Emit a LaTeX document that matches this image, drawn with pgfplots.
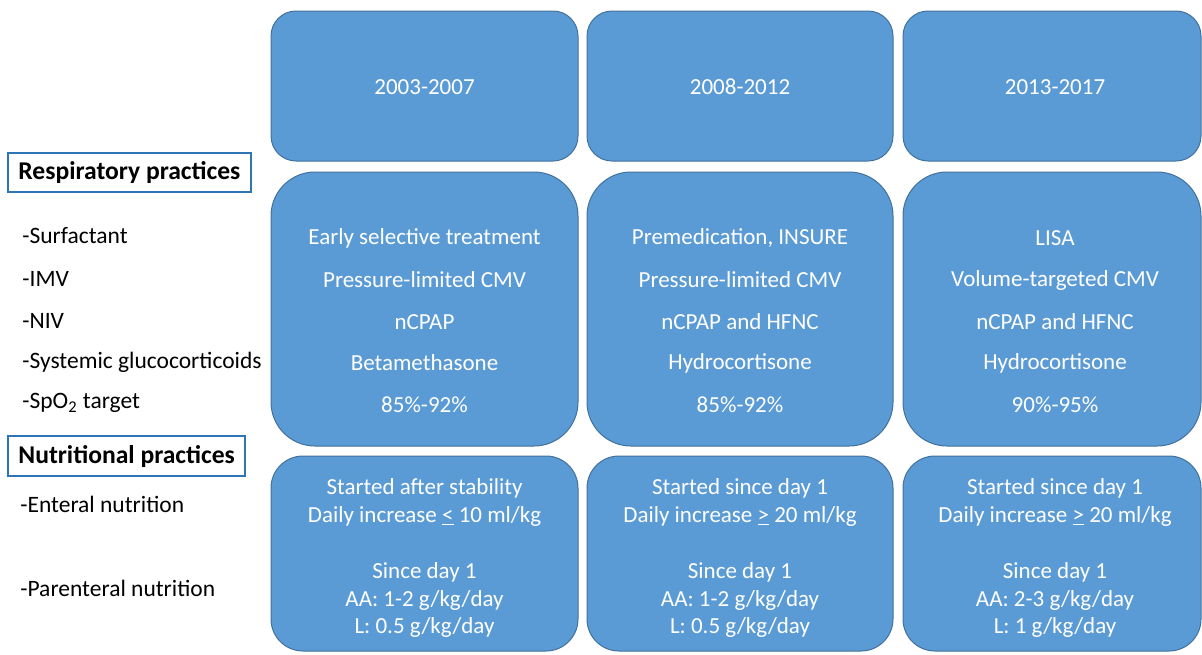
\documentclass[border=0pt]{standalone}
\usepackage{fontspec}
\setmainfont{Carlito}
\usepackage{pgfplots}
\pgfplotsset{compat=1.18}
\definecolor{boxfill}{HTML}{5B9BD5}
\definecolor{boxline}{HTML}{41719C}
\definecolor{headline}{HTML}{2E75B6}
\begin{document}
\begin{tikzpicture}
\begin{axis}[
  width=601pt, height=327pt, scale only axis,
  xmin=0, xmax=1202, ymin=0, ymax=654, y dir=reverse,
  axis lines=none, clip=false,
]
\tikzset{bx/.style={fill=boxfill, draw=boxline, line width=0.5pt},
  wt/.style={text=white, anchor=center, inner sep=0pt, font=\fontsize{11.5}{13}\selectfont},
  lb/.style={text=black, anchor=west, inner sep=0pt, font=\fontsize{11.75}{13}\selectfont}}
\path (axis cs:0,0) rectangle (axis cs:1202,654);
% top row
\draw[bx, rounded corners=12.5pt] (axis cs:271,11) rectangle (axis cs:578,161);
\draw[bx, rounded corners=12.5pt] (axis cs:587,11) rectangle (axis cs:893,161);
\draw[bx, rounded corners=12.5pt] (axis cs:903,11) rectangle (axis cs:1201,161);
% middle row
\draw[bx, rounded corners=22pt] (axis cs:271,172) rectangle (axis cs:578,446);
\draw[bx, rounded corners=22pt] (axis cs:587,172) rectangle (axis cs:893,446);
\draw[bx, rounded corners=22pt] (axis cs:903,172) rectangle (axis cs:1201,446);
% bottom row
\draw[bx, rounded corners=16pt] (axis cs:271,456) rectangle (axis cs:578,651);
\draw[bx, rounded corners=16pt] (axis cs:587,456) rectangle (axis cs:893,651);
\draw[bx, rounded corners=16pt] (axis cs:903,456) rectangle (axis cs:1201,651);
% top text
\node[wt] at (axis cs:424.5,87) {2003-2007};
\node[wt] at (axis cs:740,87) {2008-2012};
\node[wt] at (axis cs:1055,87) {2013-2017};
% middle text col 1
\node[wt] at (axis cs:424.5,238) {Early selective treatment};
\node[wt] at (axis cs:424.5,280) {Pressure-limited CMV};
\node[wt] at (axis cs:424.5,322) {nCPAP};
\node[wt] at (axis cs:424.5,363) {Betamethasone};
\node[wt] at (axis cs:424.5,405) {85\%-92\%};
% col 2
\node[wt] at (axis cs:740,238) {Premedication, INSURE};
\node[wt] at (axis cs:740,280) {Pressure-limited CMV};
\node[wt] at (axis cs:740,322) {nCPAP and HFNC};
\node[wt] at (axis cs:740,363) {Hydrocortisone};
\node[wt] at (axis cs:740,405) {85\%-92\%};
% col 3
\node[wt] at (axis cs:1055,238) {LISA};
\node[wt] at (axis cs:1055,280) {Volume-targeted CMV};
\node[wt] at (axis cs:1055,322) {nCPAP and HFNC};
\node[wt] at (axis cs:1055,363) {Hydrocortisone};
\node[wt] at (axis cs:1055,405) {90\%-95\%};
% bottom col 1
\node[wt] at (axis cs:424.5,488) {Started after stability};
\node[wt] at (axis cs:424.5,516) {Daily increase \underline{<} 10 ml/kg};
\node[wt] at (axis cs:424.5,572) {Since day 1};
\node[wt] at (axis cs:424.5,600) {AA: 1-2 g/kg/day};
\node[wt] at (axis cs:424.5,627) {L: 0.5 g/kg/day};
% bottom col 2
\node[wt] at (axis cs:740,488) {Started since day 1};
\node[wt] at (axis cs:740,516) {Daily increase \underline{>} 20 ml/kg};
\node[wt] at (axis cs:740,572) {Since day 1};
\node[wt] at (axis cs:740,600) {AA: 1-2 g/kg/day};
\node[wt] at (axis cs:740,627) {L: 0.5 g/kg/day};
% bottom col 3
\node[wt] at (axis cs:1055,488) {Started since day 1};
\node[wt] at (axis cs:1055,516) {Daily increase \underline{>} 20 ml/kg};
\node[wt] at (axis cs:1055,572) {Since day 1};
\node[wt] at (axis cs:1055,600) {AA: 2-3 g/kg/day};
\node[wt] at (axis cs:1055,627) {L: 1 g/kg/day};
% left headings
\draw[draw=headline, line width=1pt, fill=white] (axis cs:8,153) rectangle (axis cs:251,192);
\node[lb, font=\fontsize{12.8}{14}\selectfont\bfseries] at (axis cs:18,172.5) {Respiratory practices};
\draw[draw=headline, line width=1pt, fill=white] (axis cs:8,436) rectangle (axis cs:245,476);
\node[lb, font=\fontsize{12.8}{14}\selectfont\bfseries] at (axis cs:18,456) {Nutritional practices};
% left labels
\node[lb] at (axis cs:22,236) {-Surfactant};
\node[lb] at (axis cs:22,279) {-IMV};
\node[lb] at (axis cs:22,321) {-NIV};
\node[lb] at (axis cs:22,362) {-Systemic glucocorticoids};
\node[lb] at (axis cs:22,403) {-SpO\textsubscript{2} target};
\node[lb] at (axis cs:20,504) {-Enteral nutrition};
\node[lb] at (axis cs:20,588) {-Parenteral nutrition};
\end{axis}
\end{tikzpicture}
\end{document}
